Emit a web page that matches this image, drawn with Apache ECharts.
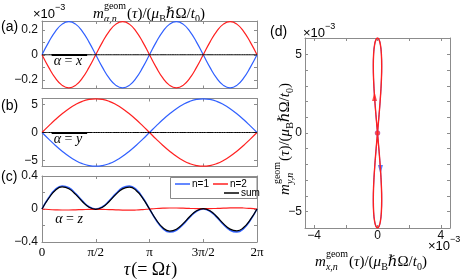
<!DOCTYPE html>
<html><head><meta charset="utf-8">
<script src="https://cdn.jsdelivr.net/npm/echarts@6/dist/echarts.min.js"></script>
<style>html,body{margin:0;padding:0;background:#fff}#c{width:463px;height:279px}</style>
</head><body><div id="c"></div>
<script>
// sample grid: tau in units of pi
const tau = [0,0.0625,0.125,0.1875,0.25,0.3125,0.375,0.4375,0.5,0.5625,0.625,0.6875,0.75,0.8125,0.875,0.9375,1,
  1.0625,1.125,1.1875,1.25,1.3125,1.375,1.4375,1.5,1.5625,1.625,1.6875,1.75,1.8125,1.875,1.9375,2];
const xTickValues = [0,0.5,1,1.5,2];
const xTickLabels = ['0','π/2','π','3π/2','2π'];
// (a) m_x (x1e-3)
const mxN1 = [0,0.101,0.187,0.245,0.265,0.245,0.187,0.101,0,-0.101,-0.187,-0.245,-0.265,-0.245,-0.187,-0.101,0,
  0.101,0.187,0.245,0.265,0.245,0.187,0.101,0,-0.101,-0.187,-0.245,-0.265,-0.245,-0.187,-0.101,0];
const mxN2 = [0,-0.101,-0.187,-0.245,-0.265,-0.245,-0.187,-0.101,0,0.101,0.187,0.245,0.265,0.245,0.187,0.101,0,
  -0.101,-0.187,-0.245,-0.265,-0.245,-0.187,-0.101,0,0.101,0.187,0.245,0.265,0.245,0.187,0.101,0];
// (b) m_y (x1e-3)
const myN1 = [0,-1.18,-2.32,-3.36,-4.28,-5.03,-5.59,-5.93,-6.05,-5.93,-5.59,-5.03,-4.28,-3.36,-2.32,-1.18,0,
  1.18,2.32,3.36,4.28,5.03,5.59,5.93,6.05,5.93,5.59,5.03,4.28,3.36,2.32,1.18,0];
const myN2 = [0,1.18,2.32,3.36,4.28,5.03,5.59,5.93,6.05,5.93,5.59,5.03,4.28,3.36,2.32,1.18,0,
  -1.18,-2.32,-3.36,-4.28,-5.03,-5.59,-5.93,-6.05,-5.93,-5.59,-5.03,-4.28,-3.36,-2.32,-1.18,0];
// (c) m_z (x1e-3)
const mzN1 = [0,0.136,0.237,0.279,0.257,0.187,0.098,0.027,0,0.027,0.098,0.187,0.257,0.279,0.237,0.136,0,
  -0.136,-0.237,-0.279,-0.257,-0.187,-0.098,-0.027,0,-0.027,-0.098,-0.187,-0.257,-0.279,-0.237,-0.136,0];
const mzN2 = [0,-0.006,-0.010,-0.012,-0.012,-0.010,-0.007,-0.005,-0.004,-0.005,-0.007,-0.010,-0.013,-0.014,-0.012,-0.007,0,
  0.006,0.010,0.012,0.012,0.010,0.007,0.005,0.004,0.005,0.007,0.010,0.013,0.014,0.012,0.007,0];
const add = (a,b) => a.map((v,i)=>+(v+b[i]).toFixed(4));
const mxSum = add(mxN1,mxN2), mySum = add(myN1,myN2), mzSum = add(mzN1,mzN2);

const BLUE = '#3060ff', RED = '#ff2020', BLACK = '#000';
const AX = '#8c8c8c';
const SERIF = '"Liberation Serif","DejaVu Serif",serif';
const SANS = '"Liberation Sans",Arial,sans-serif';

const chart = echarts.init(document.getElementById('c'), null, {renderer:'canvas'});

const yfmt = v => (v < 0 ? '−' : '') + Math.abs(v);
const xfmt = v => xTickLabels[xTickValues.indexOf(v)];
function axis(type, grid, pos, min, max, ticks, labels, fmt, lab) {
  return {type:'value', gridIndex:grid, position:pos, min, max,
    axisLine:{show:true, onZero:false, lineStyle:{color:AX, width:1}},
    axisTick:{show:true, inside:true, length:3, customValues:ticks, lineStyle:{color:AX, width:1}},
    axisLabel: labels ? Object.assign({show:true, customValues:labels, formatter:fmt, color:'#111',
      fontFamily:SANS, fontSize:12}, lab||{}) : {show:false},
    splitLine:{show:false}};
}
const xA = [], yA = [];
// (a)
xA.push(axis('x',0,'bottom',0,2,xTickValues,null));
xA.push(axis('x',0,'top',0,2,xTickValues,null));
yA.push(axis('y',0,'left',-0.27,0.27,[-0.2,-0.1,0,0.1,0.2],[-0.2,0,0.2],yfmt,{margin:4}));
yA.push(axis('y',0,'right',-0.27,0.27,[-0.2,-0.1,0,0.1,0.2],null));
// (b)
xA.push(axis('x',1,'bottom',0,2,xTickValues,null));
xA.push(axis('x',1,'top',0,2,xTickValues,null));
yA.push(axis('y',1,'left',-6.1,6.1,[-5,0,5],[-5,0,5],yfmt,{margin:4}));
yA.push(axis('y',1,'right',-6.1,6.1,[-5,0,5],null));
// (c)
xA.push(axis('x',2,'bottom',0,2,xTickValues,xTickValues,xfmt,{fontFamily:SERIF,fontSize:13,margin:4,color:'#000'}));
xA.push(axis('x',2,'top',0,2,xTickValues,null));
yA.push(axis('y',2,'left',-0.4,0.4,[-0.4,-0.2,0,0.2,0.4],[-0.4,0,0.4],yfmt,{margin:4}));
yA.push(axis('y',2,'right',-0.4,0.4,[-0.4,-0.2,0,0.2,0.4],null));
// (d)
xA.push(axis('x',3,'bottom',-4.58,4.58,[-4,-2,0,2,4],[-4,0,4],yfmt,{margin:2}));
xA.push(axis('x',3,'top',-4.58,4.58,[-4,-2,0,2,4],null));
yA.push(axis('y',3,'left',-6.05,6.05,[-5,-4,-3,-2,-1,0,1,2,3,4,5],[-5,0,5],yfmt,{margin:3}));
yA.push(axis('y',3,'right',-6.05,6.05,[-5,-4,-3,-2,-1,0,1,2,3,4,5],null));

function line(name, xi, yi, xs, ys, color, width, extra) {
  return Object.assign({type:'line', name, xAxisIndex:xi, yAxisIndex:yi, smooth:true, showSymbol:false,
    symbol:'none', data: xs.map((x,i)=>[x, ys[i]]), lineStyle:{color, width}, itemStyle:{color},
    emphasis:{disabled:true}, silent:true}, extra||{});
}
const seg = {markLine:{silent:true, symbol:'none', label:{show:false}, animation:false,
  lineStyle:{color:'#000', width:2.2, type:'solid'}, data:[[{coord:[0.09,0]},{coord:[0.42,0]}]]}};

const series = [
  line('n=1',0,0,tau,mxN1,BLUE,1.2), line('n=2',0,0,tau,mxN2,RED,1.2), line('sum',0,0,tau,mxSum,BLACK,1,seg),
  line('n=1',2,2,tau,myN1,BLUE,1.2), line('n=2',2,2,tau,myN2,RED,1.2), line('sum',2,2,tau,mySum,BLACK,1,seg),
  line('n=1',4,4,tau,mzN1,BLUE,1.6), line('n=2',4,4,tau,mzN2,RED,1.2), line('sum',4,4,tau,mzSum,BLACK,1.2),
  line('n=1',6,6,mxN1,myN1,BLUE,1.0), line('n=2',6,6,mxN2,myN2,RED,1.4),
  {type:'scatter', xAxisIndex:6, yAxisIndex:6, silent:true, symbol:'triangle', symbolSize:[5,9],
    data:[[mxN2[2],myN2[2]]], itemStyle:{color:RED}},
  {type:'scatter', xAxisIndex:6, yAxisIndex:6, silent:true, symbol:'triangle', symbolSize:[5,9], symbolRotate:180,
    data:[[mxN1[2],myN1[2]]], itemStyle:{color:BLUE}},
  {type:'scatter', xAxisIndex:6, yAxisIndex:6, silent:true, symbol:'circle', symbolSize:5,
    data:[[mxN2[0],myN2[0]]], itemStyle:{color:RED, borderColor:'#9040c0', borderWidth:0.5}}
];

// math text helper
const mctx = document.createElement('canvas').getContext('2d');
function tw(t, f){ mctx.font = f; return mctx.measureText(t).width; }
function fnt(s, it, fam){ return (it?'italic ':'') + s + 'px ' + (fam||SERIF); }
function txt(x, y, t, f, align) {
  return {type:'text', x, y, silent:true, style:{text:t, font:f, fill:'#000', align:align||'left', verticalAlign:'middle',
    textAlign:align||'left', textVerticalAlign:'middle'}};
}
function math(pieces) {
  let x = 0; const ch = [];
  pieces.forEach(p => {
    if (p.sup !== undefined) {
      const f1 = fnt(p.s, false, p.fam), f2 = fnt(p.s, true, p.fam);
      ch.push(txt(x, p.up, p.sup, f1));
      ch.push(txt(x, p.dn, p.sub, f2));
      x += Math.max(tw(p.sup,f1), tw(p.sub,f2)) + 1;
    } else {
      const f = fnt(p.s, p.i, p.fam);
      ch.push(txt(x, p.dy||0, p.t, f));
      x += tw(p.t, f) + (p.gap||0);
    }
  });
  return {ch, w:x};
}
function mLabel(sub) {
  return [
    {t:'m', i:true, s:15},
    {sup:'geom', sub:sub, s:10, up:-8, dn:5},
    {t:'(', s:15}, {t:'τ', i:true, s:15}, {t:')/(', s:15}, {t:'μ', i:true, s:15},
    {t:'B', s:10, dy:5}, {t:'ℏΩ/', s:15}, {t:'t', i:true, s:15}, {t:'0', s:10, dy:5}, {t:')', s:15}
  ];
}
function centered(pieces, cx, cy) {
  const m = math(pieces);
  return {type:'group', x: cx - m.w/2, y: cy, children: m.ch};
}
function rotated(pieces, cx, cy) {
  const m = math(pieces);
  return {type:'group', x: cx, y: cy + m.w/2, rotation: Math.PI/2, children: m.ch};
}
function exp10(x, y) {
  return {type:'group', x, y, children: math([
    {t:'×10', s:13, fam:SANS}, {t:'−3', s:9, fam:SANS, dy:-6}
  ]).ch};
}
function alpha(v, cx, cy) {
  return centered([{t:'α', i:true, s:14}, {t:' = ', s:14}, {t:v, i:true, s:14}], cx, cy);
}
const tauTitle = [{t:'τ', i:true, s:18, gap:1}, {t:'(= ', s:18}, {t:'Ω', s:18}, {t:'t', i:true, s:18, gap:1}, {t:')', s:18}];

const graphic = [
  txt(1, 27, '(a)', '14px ' + SANS),
  txt(1, 106.5, '(b)', '14px ' + SANS),
  txt(1, 177, '(c)', '14px ' + SANS),
  txt(270, 32, '(d)', '14px ' + SANS),
  exp10(33, 14), exp10(303, 33), exp10(428, 246),
  centered(mLabel('α,n'), 149, 14),
  centered(mLabel('x,n'), 371, 262),
  rotated(mLabel('y,n'), 285, 139),
  centered(tauTitle, 150.5, 270),
  alpha('x', 68, 61), alpha('y', 68, 139), alpha('z', 69, 219.5),
  {type:'rect', shape:{x:170.5, y:177.5, width:86.5, height:21}, z:3, silent:true,
    style:{fill:'#fff', stroke:'#888', lineWidth:1}}
];

const legendBase = {orient:'horizontal', icon:'rect', itemWidth:15, itemHeight:1.5, itemGap:4, padding:0,
  selectedMode:false, z:5, textStyle:{fontSize:10, fontFamily:SANS, color:'#000', padding:[0,0,0,-3]}};
const legend = [
  Object.assign({}, legendBase, {data:['n=1','n=2'], left:175, top:179}),
  Object.assign({}, legendBase, {data:['sum'], left:224, top:188})
];

chart.setOption({animation:false, backgroundColor:'#fff',
  grid:[
    {left:42, top:21, width:215, height:67.5},
    {left:42, top:98.5, width:215, height:68},
    {left:42, top:176, width:215, height:66},
    {left:305, top:38, width:145, height:190}
  ],
  xAxis:xA, yAxis:yA, legend, series, graphic});
</script></body></html>
